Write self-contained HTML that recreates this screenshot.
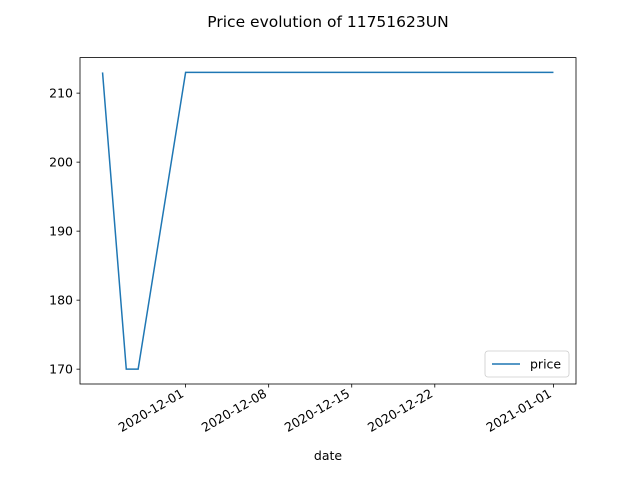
<!DOCTYPE html>
<html><head><meta charset="utf-8"><style>
body{margin:0;background:#fff;font-family:"DejaVu Sans","Liberation Sans",sans-serif}
svg text{font-family:"DejaVu Sans","Liberation Sans",sans-serif}
</style></head><body>
<svg id="chart" width="640" height="480" xmlns="http://www.w3.org/2000/svg">
<rect width="640" height="480" fill="#fff"/>
<text x="328" y="27" font-size="15.5" text-anchor="middle">Price evolution of 11751623UN</text>
<g id="plot"></g>
</svg>
<script>
const dates = ["2020-11-24","2020-11-26","2020-11-27","2020-12-01","2021-01-01"];
const prices = [213,170,170,213,213];
const xTickLabels = ["2020-12-01","2020-12-08","2020-12-15","2020-12-22","2021-01-01"];
const yTicks = [170,180,190,200,210];

const L=80,R=576,T=57.6,B=384;
const ts=dates.map(d=>Date.parse(d));
const x0=Math.min(...ts),x1=Math.max(...ts),xm=(x1-x0)*0.05;
const ymin=Math.min(...prices),ymax=Math.max(...prices),ym=(ymax-ymin)*0.05;
const xs=t=>L+(t-(x0-xm))/((x1+xm)-(x0-xm))*(R-L);
const ys=v=>B-(v-(ymin-ym))/((ymax+ym)-(ymin-ym))*(B-T);
const ns="http://www.w3.org/2000/svg";
const g=document.getElementById('plot');
function mk(tag,attrs){const e=document.createElementNS(ns,tag);for(const k in attrs)e.setAttribute(k,attrs[k]);g.appendChild(e);return e;}

const line=mk('polyline',{points:ts.map((t,i)=>xs(t)+','+ys(prices[i])).join(' '),fill:'none',stroke:'#1f77b4','stroke-width':1.5});



yTicks.forEach(v=>{const y=ys(v);
 const tk=mk('line',{x1:L-3.5,x2:L,y1:y,y2:y,stroke:'#000','stroke-width':0.8});
 
 
 const tx=mk('text',{x:L-7,y:y+4.5,'font-size':12.5,'text-anchor':'end'});tx.textContent=v;
 
 
});
xTickLabels.forEach(d=>{const x=xs(Date.parse(d));
 const tk=mk('line',{x1:x,x2:x,y1:B,y2:B+3.5,stroke:'#000','stroke-width':0.8});
 
 
 const tx=mk('text',{x:x-1,y:B+12,'font-size':12.5,'text-anchor':'end',transform:`rotate(-30 ${x-1} ${B+12})`});tx.textContent=d;
 
 
});
const fr=mk('rect',{x:L,y:T,width:R-L,height:B-T,fill:'none',stroke:'#000','stroke-width':0.8});


const xl=mk('text',{x:(L+R)/2,y:460,'font-size':12.5,'text-anchor':'middle'});xl.textContent='date';


const lb=mk('rect',{x:485,y:351,width:84,height:26,rx:3,fill:'#fff',stroke:'#ccc','stroke-width':0.8});


const ll=mk('line',{x1:492,x2:520,y1:364,y2:364,stroke:'#1f77b4','stroke-width':1.5});


const lt=mk('text',{x:530,y:368.5,'font-size':12.5});lt.textContent='price';


</script>
</body></html>
